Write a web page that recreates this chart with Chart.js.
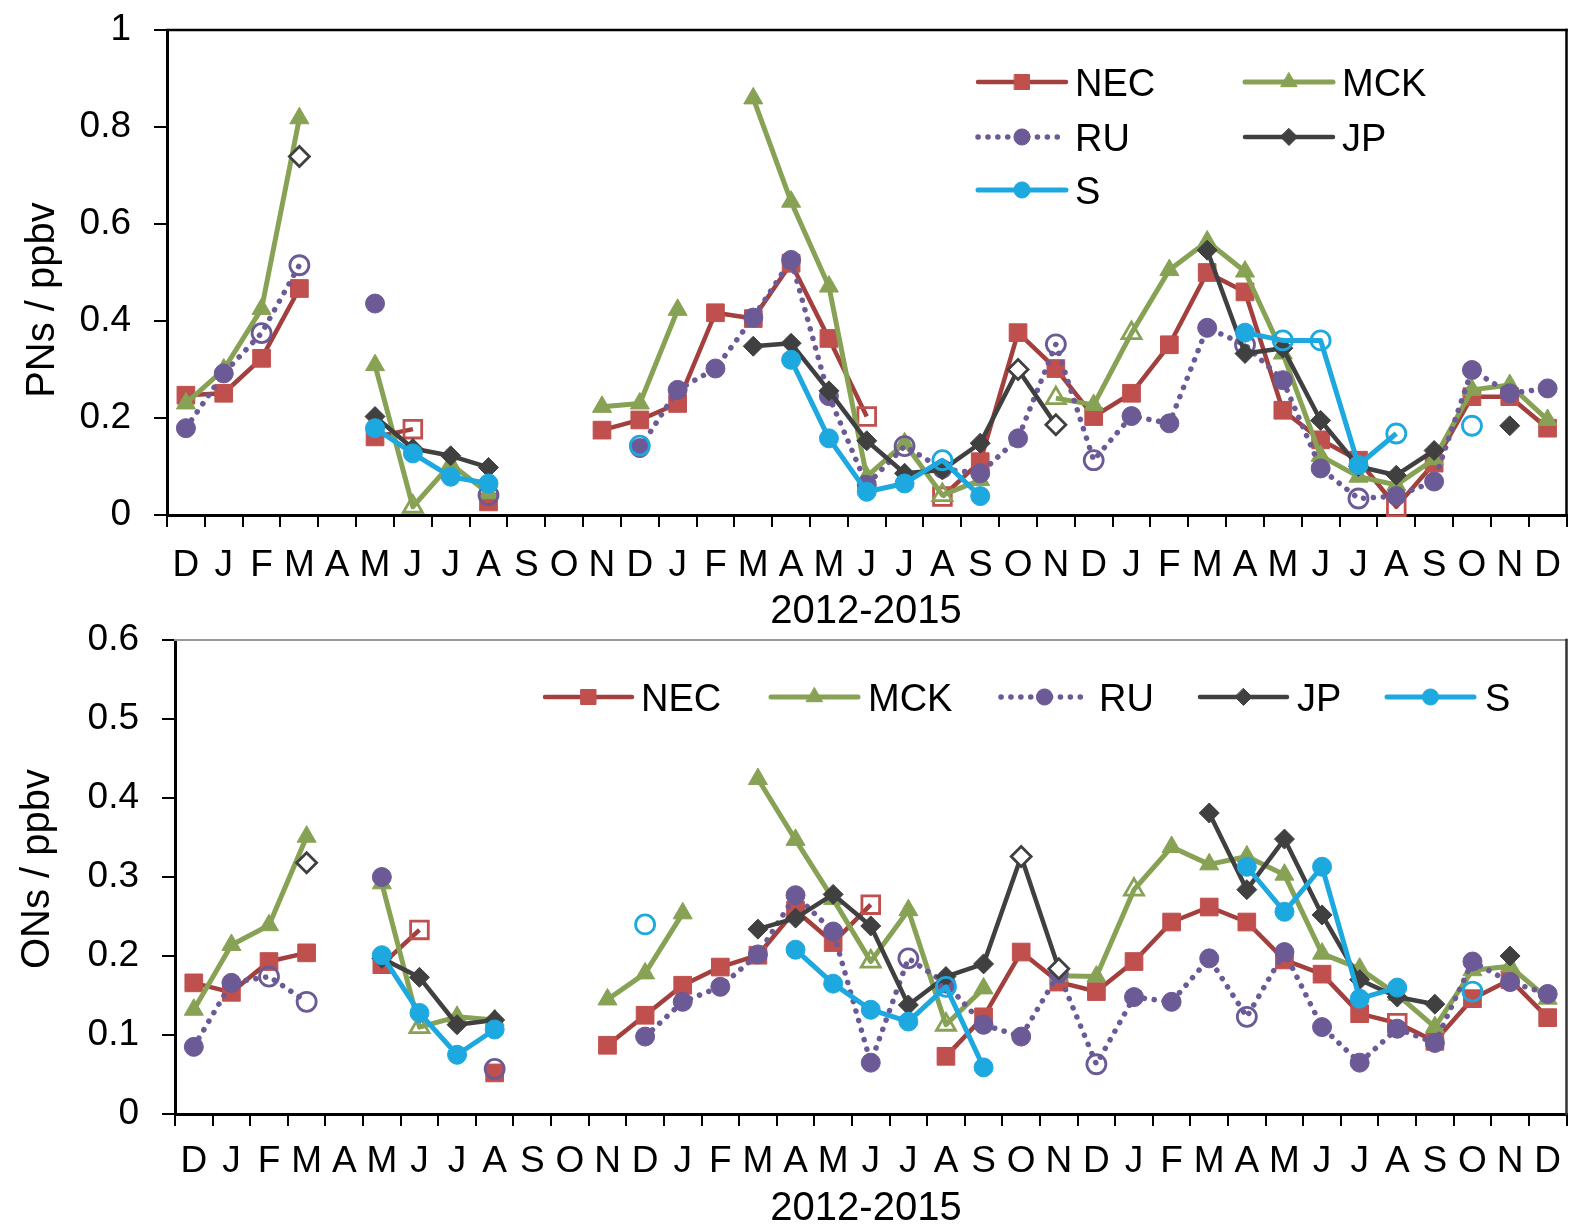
<!DOCTYPE html>
<html>
<head>
<meta charset="utf-8">
<script src="https://cdn.jsdelivr.net/npm/chart.js@4.4.1/dist/chart.umd.min.js"></script>
<style>
  html,body{margin:0;padding:0;background:#fff;}
  canvas{position:absolute;left:0;}
</style>
</head>
<body>
<canvas id="pn" width="1580" height="640" style="top:0"></canvas>
<canvas id="on" width="1580" height="613" style="top:613px"></canvas>
<script>
// ---------- categories ----------
const MONTHS = ['D','J','F','M','A','M','J','J','A','S','O','N',
                'D','J','F','M','A','M','J','J','A','S','O','N',
                'D','J','F','M','A','M','J','J','A','S','O','N','D'];
const SERIES_NAMES = ['NEC','MCK','RU','JP','S'];
const X_TITLE = '2012-2015';
const PN_TITLE = 'PNs / ppbv';
const ON_TITLE = 'ONs / ppbv';
const PN_MAX = 1, PN_STEP = 0.2;
const ON_MAX = 0.6, ON_STEP = 0.1;

// ---------- PNs (top) ----------
const NEC_PN = [0.247,0.251,0.323,0.467,null,0.161,0.177,null,0.027,null,null,0.175,0.196,0.230,0.417,0.405,0.519,0.364,0.203,null,0.038,0.110,0.376,0.302,0.203,0.251,0.351,0.500,0.460,0.216,0.155,0.113,0.017,0.107,0.244,0.244,0.179];
const MCK_PN = [0.230,0.300,0.425,0.818,null,0.309,0.017,0.105,0.045,null,null,0.223,0.230,0.423,null,0.859,0.646,0.471,0.079,0.148,0.041,0.072,null,0.241,0.227,0.375,0.505,0.564,0.502,0.333,0.122,0.079,0.062,0.115,0.258,0.268,0.196];
const RU_PN  = [0.179,0.292,0.375,0.515,null,0.436,null,null,0.041,null,null,null,0.138,0.258,0.302,0.407,0.526,0.245,0.062,0.142,0.095,0.086,0.158,0.352,0.113,0.204,0.189,0.386,0.351,0.278,0.096,0.034,0.039,0.069,0.299,0.251,0.261];
const JP_PN  = [null,null,null,0.739,null,0.203,0.137,0.122,0.098,null,null,null,null,null,null,0.348,0.354,0.256,0.153,0.086,0.093,0.148,0.300,0.186,null,null,null,0.546,0.333,0.344,0.195,0.100,0.082,0.133,null,0.184,null];
const S_PN   = [null,null,null,null,null,0.179,0.127,0.079,0.065,null,null,null,0.143,null,null,null,0.320,0.158,0.048,0.065,0.113,0.039,null,null,null,null,null,null,0.376,0.360,0.360,0.103,0.168,null,0.184,null,null];
// indices of open (hollow) markers
const NEC_PN_OPEN = [6,18,20,32];
const MCK_PN_OPEN = [6,20,23,25];
const RU_PN_OPEN  = [2,3,8,19,23,24,28,31];
const JP_PN_OPEN  = [3,22,23];
const S_PN_OPEN   = [12,20,29,30,32,34];

// ---------- ONs (bottom) ----------
const NEC_ON = [0.166,0.154,0.193,0.204,null,0.189,0.233,null,0.052,null,null,0.087,0.125,0.163,0.186,0.201,0.258,0.217,0.265,null,0.073,0.123,0.205,0.167,0.155,0.193,0.243,0.262,0.243,0.195,0.177,0.127,0.115,0.092,0.146,0.170,0.122];
const MCK_ON = [0.132,0.214,0.239,0.351,null,0.292,0.110,0.123,0.119,null,null,0.145,0.178,0.254,null,0.424,0.347,0.272,0.193,0.258,0.113,0.159,null,0.175,0.174,0.284,0.338,0.316,0.326,0.303,0.203,0.184,0.151,0.110,0.182,0.187,0.146];
const RU_ON  = [0.085,0.166,0.174,0.142,null,0.300,null,null,0.057,null,null,null,0.098,0.142,0.161,0.202,0.277,0.231,0.065,0.197,0.165,0.113,0.098,0.178,0.063,0.148,0.142,0.197,0.123,0.205,0.110,0.065,0.108,0.090,0.193,0.167,0.152];
const JP_ON  = [null,null,null,0.318,null,0.197,0.173,0.113,0.119,null,null,null,null,null,null,0.234,0.248,0.278,0.238,0.138,0.174,0.190,0.326,0.184,null,null,null,0.381,0.284,0.348,0.252,0.170,0.148,0.139,null,0.200,null];
const S_ON   = [null,null,null,null,null,0.201,0.128,0.075,0.107,null,null,null,0.240,null,null,null,0.208,0.165,0.132,0.117,0.161,0.059,null,null,null,null,null,null,0.313,0.256,0.313,0.146,0.160,null,0.155,null,null];
const NEC_ON_OPEN = [6,18,32];
const MCK_ON_OPEN = [6,18,20,25];
const RU_ON_OPEN  = [2,3,8,19,24,28];
const JP_ON_OPEN  = [3,22,23];
const S_ON_OPEN   = [12,20,34];

// ---------- styles ----------
const FONT = 'Liberation Sans, Arial, sans-serif';
const STYLE = [
  {color:'#C0504D', line:'#A33F3C', shape:'rect',     r:12.5, w:4.5, open:'rgba(0,0,0,0)'},
  {color:'#87A254', line:'#87A254', shape:'triangle', r:11,   w:5,   open:'rgba(0,0,0,0)'},
  {color:'#6B5A95', line:'#6B5A95', shape:'circle',   r:9.5,  w:5.5, open:'rgba(0,0,0,0)', dash:[0.1,9.8]},
  {color:'#404040', line:'#404040', shape:'rectRot',  r:10,   w:4.5, open:'#ffffff'},
  {color:'#1EA8E0', line:'#1EA8E0', shape:'circle',   r:9.5,  w:5,   open:'rgba(0,0,0,0)'}
];

Chart.defaults.font.family = FONT;
Chart.defaults.color = '#000';

function drawMarker(ctx, shape, x, y, r, fill, stroke, bw){
  ctx.beginPath();
  if (shape === 'circle') ctx.arc(x, y, r, 0, Math.PI*2);
  else if (shape === 'rect') { const s = r*Math.SQRT1_2; ctx.rect(x-s, y-s, 2*s, 2*s); }
  else if (shape === 'triangle') { ctx.moveTo(x, y-r); ctx.lineTo(x+0.866*r, y+0.5*r); ctx.lineTo(x-0.866*r, y+0.5*r); ctx.closePath(); }
  else if (shape === 'rectRot') { ctx.moveTo(x, y-r); ctx.lineTo(x+r, y); ctx.lineTo(x, y+r); ctx.lineTo(x-r, y); ctx.closePath(); }
  ctx.fillStyle = fill; ctx.fill();
  if (bw) { ctx.setLineDash([]); ctx.lineWidth = bw; ctx.strokeStyle = stroke; ctx.stroke(); }
}

const boxPlugin = {
  id: 'box',
  afterDraw(chart, args, o){
    const {ctx, chartArea:a} = chart;
    ctx.save();
    ctx.lineCap = 'square';
    ctx.lineWidth = o.topWidth; ctx.strokeStyle = o.topColor;
    ctx.beginPath(); ctx.moveTo(a.left, a.top); ctx.lineTo(a.right, a.top); ctx.stroke();
    ctx.lineWidth = o.rightWidth; ctx.strokeStyle = o.rightColor;
    ctx.beginPath(); ctx.moveTo(a.right, a.top); ctx.lineTo(a.right, a.bottom); ctx.stroke();
    ctx.restore();
  }
};

const legendPlugin = {
  id: 'legendIn',
  afterDraw(chart, args, o){
    const ctx = chart.ctx;
    ctx.save();
    o.items.forEach(it => {
      const st = STYLE[it.k];
      ctx.beginPath();
      ctx.lineWidth = st.w;
      ctx.strokeStyle = st.line;
      ctx.lineCap = 'round';
      ctx.setLineDash(st.dash || []);
      ctx.moveTo(it.x, it.y); ctx.lineTo(it.x + o.len, it.y); ctx.stroke();
      ctx.setLineDash([]);
      drawMarker(ctx, st.shape, it.x + o.len/2, it.y, st.r*0.85, st.color, st.color, 1);
      ctx.fillStyle = '#000';
      ctx.font = o.size + 'px ' + FONT;
      ctx.textAlign = 'left'; ctx.textBaseline = 'alphabetic';
      ctx.fillText(SERIES_NAMES[it.k], it.tx, it.y + o.size*0.36);
    });
    ctx.restore();
  }
};

const titlePlugin = {
  id: 'axisTitles',
  afterDraw(chart, args, o){
    const ctx = chart.ctx;
    ctx.save();
    ctx.fillStyle = '#000';
    ctx.font = o.size + 'px ' + FONT;
    ctx.textAlign = 'center'; ctx.textBaseline = 'alphabetic';
    ctx.fillText(o.xText, o.xx, o.xy);
    ctx.translate(o.yx, o.yy);
    ctx.rotate(-Math.PI/2);
    ctx.fillText(o.yText, 0, 0);
    ctx.restore();
  }
};

function buildDatasets(values, opens){
  return values.map((vals, k) => {
    const st = STYLE[k];
    return {
      label: SERIES_NAMES[k],
      data: vals,
      borderColor: st.line,
      backgroundColor: st.color,
      borderWidth: st.w,
      borderDash: st.dash || [],
      borderCapStyle: st.dash ? 'round' : 'butt',
      borderJoinStyle: 'round',
      tension: 0, fill: false, spanGaps: false, clip: false,
      pointStyle: st.shape,
      pointRadius: st.r,
      pointHoverRadius: st.r,
      pointBackgroundColor: vals.map((v,i) => opens[k].includes(i) ? st.open : st.color),
      pointBorderColor: st.color,
      pointBorderWidth: vals.map((v,i) => opens[k].includes(i) ? 2.8 : 1),
      order: 5 - k
    };
  });
}

function makeChart(id, c){
  return new Chart(document.getElementById(id), {
    type: 'line',
    data: { labels: MONTHS, datasets: buildDatasets(c.values, c.opens) },
    options: {
      responsive: false, animation: false, devicePixelRatio: 1,
      events: [],
      layout: { padding: { top: c.top, right: c.right, left: 0, bottom: 0 } },
      plugins: {
        legend: { display: false }, tooltip: { enabled: false },
        box: c.box,
        legendIn: c.legend,
        axisTitles: c.titles
      },
      scales: {
        x: {
          type: 'category', offset: true,
          grid: { offset: true, drawOnChartArea: false, drawTicks: true, tickLength: 12, color: '#000', lineWidth: 2 },
          border: { display: true, color: '#000', width: 3 },
          ticks: { autoSkip: false, maxRotation: 0, minRotation: 0, padding: c.xpad, color: '#000', font: { family: FONT, size: 37 } },
          afterFit(s){ s.height = c.xh; s.paddingLeft = 0; s.paddingRight = 0; }
        },
        y: {
          min: 0, max: c.max,
          ticks: { stepSize: c.step, padding: 23, color: '#000', font: { family: FONT, size: 37 },
                   callback: v => String(Number(v.toFixed(1))) },
          grid: { drawOnChartArea: false, drawTicks: true, tickLength: 13, color: '#000', lineWidth: 2 },
          border: { display: true, color: '#000', width: 3 },
          afterFit(s){ s.width = c.left; s.paddingTop = 0; s.paddingBottom = 0; }
        }
      }
    },
    plugins: [boxPlugin, legendPlugin, titlePlugin]
  });
}

makeChart('pn', {
  values: [NEC_PN, MCK_PN, RU_PN, JP_PN, S_PN],
  opens: [NEC_PN_OPEN, MCK_PN_OPEN, RU_PN_OPEN, JP_PN_OPEN, S_PN_OPEN],
  max: PN_MAX, step: PN_STEP,
  top: 30, right: 4, left: 167, xh: 125, xpad: 17,
  box: { topColor: '#000', topWidth: 2.5, rightColor: '#000', rightWidth: 2.5 },
  legend: { len: 88, size: 38, items: [
    {k:0, x:978,  y:82,  tx:1075},
    {k:1, x:1245, y:82,  tx:1342},
    {k:2, x:978,  y:137, tx:1075},
    {k:3, x:1245, y:137, tx:1342},
    {k:4, x:978,  y:190, tx:1075}
  ]},
  titles: { size: 40, xText: X_TITLE, xx: 866, xy: 623, yText: PN_TITLE, yx: 54, yy: 300 }
});

makeChart('on', {
  values: [NEC_ON, MCK_ON, RU_ON, JP_ON, S_ON],
  opens: [NEC_ON_OPEN, MCK_ON_OPEN, RU_ON_OPEN, JP_ON_OPEN, S_ON_OPEN],
  max: ON_MAX, step: ON_STEP,
  top: 27, right: 7, left: 175, xh: 112, xpad: 14,
  box: { topColor: '#999', topWidth: 2, rightColor: '#333', rightWidth: 2.5 },
  legend: { len: 87, size: 38, items: [
    {k:0, x:545,  y:84, tx:641},
    {k:1, x:771,  y:84, tx:868},
    {k:2, x:1001, y:84, tx:1099},
    {k:3, x:1200, y:84, tx:1297},
    {k:4, x:1387, y:84, tx:1485}
  ]},
  titles: { size: 40, xText: X_TITLE, xx: 866, xy: 607, yText: ON_TITLE, yx: 49, yy: 256 }
});
</script>
</body>
</html>
